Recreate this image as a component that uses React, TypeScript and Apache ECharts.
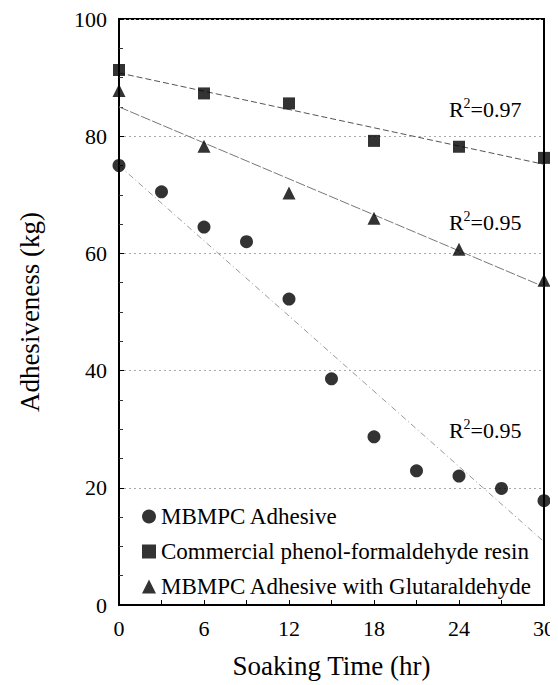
import React, { useEffect, useRef } from "react";
import * as echarts from "echarts";

const seriesNames = [
  "MBMPC Adhesive",
  "Commercial phenol-formaldehyde resin",
  "MBMPC Adhesive with Glutaraldehyde",
];

const mbmpcPoints = [
  [0, 75], [3, 70.5], [6, 64.5], [9, 62], [12, 52.2], [15, 38.6],
  [18, 28.7], [21, 22.9], [24, 22.0], [27, 19.9], [30, 17.8],
];
const phenolPoints = [
  [0, 91.3], [6, 87.3], [12, 85.6], [18, 79.2], [24, 78.2], [30, 76.3],
];
const glutPoints = [
  [0, 87.8], [6, 78.3], [12, 70.3], [18, 66.0], [24, 60.7], [30, 55.4],
];

const mbmpcTrend = [[0, 75], [30, 10.8]];
const phenolTrend = [[0, 90.8], [30, 75.2]];
const glutTrend = [[0, 85.0], [30, 54.3]];

const r2Labels = [
  { pos: [23.3, 84.5], text: "=0.97" },
  { pos: [23.3, 65.3], text: "=0.95" },
  { pos: [23.3, 29.7], text: "=0.95" },
];

const xTicks = [0, 6, 12, 18, 24, 30];
const yTicks = [0, 20, 40, 60, 80, 100];

const FONT = "Liberation Serif";
const FONT2 = "Times New Roman";

export default function App() {
  const ref = useRef<HTMLDivElement>(null);
  useEffect(() => {
    if (!ref.current) return;
    const chart = echarts.init(ref.current, null, { renderer: "svg" });
    chart.setOption({
      animation: false,
      grid: { left: 105, right: 14, top: 9, bottom: 80, show: true, borderColor: "#000", borderWidth: 2 },
      legend: {
        data: seriesNames,
        orient: "vertical",
        left: 129,
        top: 492,
        itemWidth: 14,
        itemHeight: 14,
        itemGap: 12,
        textStyle: { fontFamily: FONT2, fontSize: 23, color: "#000" },
      },
      xAxis: {
        type: "value",
        min: xTicks[0],
        max: xTicks[xTicks.length - 1],
        interval: 6,
        name: "Soaking Time (hr)",
        nameLocation: "middle",
        nameGap: 47,
        nameTextStyle: { fontFamily: FONT, fontSize: 27, color: "#000" },
        axisLine: { show: true, lineStyle: { color: "#000", width: 2 } },
        axisTick: { show: true, inside: true, length: 5, lineStyle: { color: "#000" } },
        minorTick: { show: true, splitNumber: 2, length: 5, lineStyle: { color: "#000" } },
        axisLabel: { fontFamily: FONT2, fontSize: 22, color: "#000", margin: 12 },
        splitLine: { show: false },
      },
      yAxis: {
        type: "value",
        min: yTicks[0],
        max: yTicks[yTicks.length - 1],
        interval: 20,
        name: "Adhesiveness (kg)",
        nameLocation: "middle",
        nameGap: 76,
        nameTextStyle: { fontFamily: FONT, fontSize: 27, color: "#000" },
        axisLine: { show: true, lineStyle: { color: "#000", width: 2 } },
        axisTick: { show: true, inside: true, length: 5, lineStyle: { color: "#000" } },
        minorTick: { show: true, splitNumber: 4, length: 4, lineStyle: { color: "#333" } },
        axisLabel: { fontFamily: FONT2, fontSize: 22, color: "#000", margin: 12 },
        splitLine: { show: true, lineStyle: { color: "#aaa", type: [2, 3], width: 1 } },
      },
      series: [
        {
          type: "line", data: mbmpcTrend, symbol: "none", silent: true,
          lineStyle: { color: "#999", width: 1, type: [6, 3, 1, 3] }, z: 1,
        },
        {
          type: "line", data: phenolTrend, symbol: "none", silent: true,
          lineStyle: { color: "#555", width: 1, type: [6, 3] }, z: 1,
        },
        {
          type: "line", data: glutTrend, symbol: "none", silent: true,
          lineStyle: { color: "#777", width: 1, type: [10, 2] }, z: 1,
        },
        {
          name: seriesNames[0], type: "scatter", data: mbmpcPoints,
          symbol: "circle", symbolSize: 13, itemStyle: { color: "#000" }, z: 3,
        },
        {
          name: seriesNames[1], type: "scatter", data: phenolPoints,
          symbol: "rect", symbolSize: 12, itemStyle: { color: "#000" }, z: 3,
        },
        {
          name: seriesNames[2], type: "scatter", data: glutPoints,
          symbol: "triangle", symbolSize: 13, itemStyle: { color: "#000" }, z: 3,
        },
      ],
    });
    const graphics: any[] = [];
    r2Labels.forEach((r) => {
      const p = chart.convertToPixel({ gridIndex: 0 }, r.pos) as number[];
      graphics.push(
        { type: "text", x: p[0], y: p[1], z: 10,
          style: { text: "R", fontFamily: FONT, fontSize: 22, fill: "#000", verticalAlign: "middle", align: "left" } },
        { type: "text", x: p[0] + 14.5, y: p[1] - 6, z: 10,
          style: { text: "2", fontFamily: FONT, fontSize: 14, fill: "#000", verticalAlign: "middle", align: "left" } },
        { type: "text", x: p[0] + 21.5, y: p[1], z: 10,
          style: { text: r.text, fontFamily: FONT, fontSize: 22, fill: "#000", verticalAlign: "middle", align: "left" } },
      );
    });
    chart.setOption({ graphic: graphics });
    return () => chart.dispose();
  }, []);
  return <div ref={ref} style={{ width: 550, height: 677 }} />;
}
